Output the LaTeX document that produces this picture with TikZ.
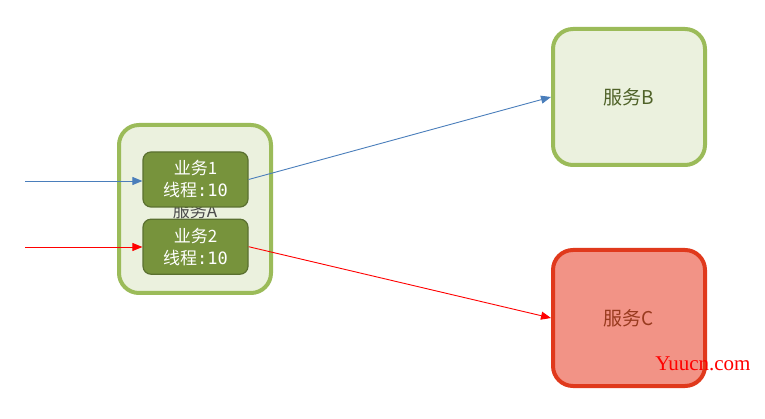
\documentclass[tikz,border=0pt]{standalone}
\usepackage{fontspec}
\setmainfont{Noto Sans CJK SC}
\newfontfamily\monofont{DejaVu Sans Mono}
\newfontfamily\wmfont{Liberation Serif}
\usetikzlibrary{arrows,arrows.meta,positioning,calc}
\definecolor{svcline}{HTML}{9BBB59}
\definecolor{svcfill}{HTML}{EBF1DE}
\definecolor{svctext}{HTML}{4F6228}
\definecolor{bizfill}{HTML}{77933C}
\definecolor{bizline}{HTML}{5A7030}
\definecolor{redline}{HTML}{E0391C}
\definecolor{redfill}{HTML}{F29386}
\definecolor{redtext}{HTML}{983A1E}
\definecolor{callblue}{HTML}{4A7EBB}
\tikzset{svc/.style={draw=svcline, line width=4pt, fill=svcfill, rounded corners=20pt, minimum width=152pt, minimum height=136pt, text=svctext, font=\fontsize{19}{22}\selectfont}}
\tikzstyle{biz}=[draw=bizline, line width=1.2pt, fill=bizfill, rounded corners=8pt, minimum width=105pt, minimum height=55pt, inner sep=0pt, text=white, align=center, font=\fontsize{17}{22}\selectfont]
\tikzstyle{call}=[line width=0.9pt]
\newcommand{\thr}{线程{\monofont :10}}

\begin{document}
\begin{tikzpicture}[x=1pt, y=-1pt, >={Triangle[length=10pt,width=8pt]}, node distance=11pt]
\useasboundingbox (0,0) rectangle (765,419);
\node[svc, minimum height=168pt] (SA) at (195,209) {};
\node[text=black!70, font=\fontsize{17}{20}\selectfont] (LA) at (195,211) {服务A};
\node[biz] (B1) at (195.5,179.5) {业务1\\\thr};
\node[biz, below=of B1] (B2) {业务2\\\thr};
\node[svc] (SB) at (629,97) {服务B};
\node[svc, draw=redline, fill=redfill, text=redtext, below=81pt of SB] (SC) {服务C};
\node[text=red, font=\wmfont\fontsize{21}{21}\selectfont] (wm) at (703,364) {Yuucn.com};
\coordinate (in1) at (25,181);
\coordinate (in2) at (25,247);
\path[->, call] (in1) edge [callblue] (in1 -| B1.west)
	 (in2) edge [red] (in2 -| B2.west)
	 (B1.east) edge [callblue] (SB.west)
	 (B2.east) edge [red] (SC.west)
;
\end{tikzpicture}
\end{document}
